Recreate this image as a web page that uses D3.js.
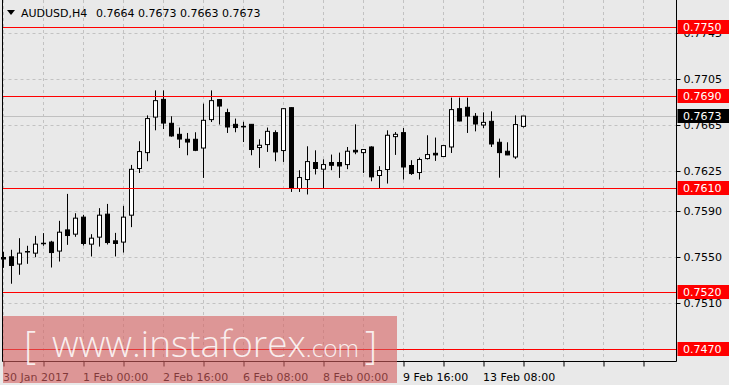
<!DOCTYPE html>
<html><head><meta charset="utf-8">
<script src="https://cdn.jsdelivr.net/npm/d3@7"></script>
<style>
body{margin:0;background:#e9e9e9;}
svg{display:block;}
</style>
</head><body>
<svg id="chart" width="729" height="385"></svg>
<script>
// ---- data ----
const symbol = "AUDUSD,H4";
const headerValues = ["0.7664", "0.7673", "0.7663", "0.7673"];
const opens  = [0.75500,0.75506,0.75443,0.75548,0.75538,0.75620,0.75634,0.75556,0.75740,0.75703,
                0.75851,0.75616,0.75677,0.75877,0.75645,0.75634,0.75868,0.76274,0.76412,0.76721,
                0.76875,0.76667,0.76571,0.76528,0.76528,0.76452,0.76699,0.76873,0.76760,0.76658,
                0.76640,0.76658,0.76456,0.76482,0.76586,0.76430,0.76803,0.76100,0.76178,0.76326,
                0.76268,0.76326,0.76326,0.76308,0.76432,0.76412,0.76461,0.76213,0.76265,0.76551,
                0.76586,0.76300,0.76239,0.76360,0.76406,0.76378,0.76461,0.76794,0.76806,0.76728,
                0.76652,0.76684,0.76502,0.76424,0.76374,0.76640];
const highs  = [0.75550,0.75567,0.75668,0.75602,0.75688,0.75712,0.75645,0.75819,0.76053,0.75885,
                0.75871,0.75703,0.75929,0.75966,0.75714,0.75949,0.76305,0.76511,0.76736,0.76953,
                0.76953,0.76728,0.76630,0.76583,0.76589,0.76838,0.76953,0.76876,0.76794,0.76708,
                0.76680,0.76660,0.76528,0.76630,0.76606,0.76800,0.76805,0.76259,0.76467,0.76432,
                0.76354,0.76395,0.76412,0.76461,0.76658,0.76442,0.76467,0.76294,0.76606,0.76591,
                0.76626,0.76346,0.76369,0.76563,0.76543,0.76476,0.76890,0.76890,0.76890,0.76756,
                0.76762,0.76771,0.76534,0.76502,0.76736,0.76730];
const lows   = [0.75410,0.75272,0.75350,0.75445,0.75503,0.75602,0.75413,0.75465,0.75610,0.75680,
                0.75604,0.75509,0.75595,0.75613,0.75509,0.75543,0.75764,0.76235,0.76337,0.76606,
                0.76617,0.76550,0.76452,0.76389,0.76425,0.76192,0.76678,0.76656,0.76583,0.76589,
                0.76504,0.76389,0.76279,0.76418,0.76337,0.76331,0.76070,0.76070,0.76048,0.76222,
                0.76100,0.76259,0.76192,0.76268,0.76398,0.76235,0.76163,0.76100,0.76143,0.76392,
                0.76178,0.76218,0.76178,0.76352,0.76340,0.76376,0.76409,0.76684,0.76583,0.76597,
                0.76625,0.76461,0.76194,0.76390,0.76357,0.76630];
const closes = [0.75487,0.75431,0.75538,0.75552,0.75616,0.75624,0.75543,0.75720,0.75691,0.75842,
                0.75622,0.75668,0.75868,0.75630,0.75622,0.75851,0.76267,0.76421,0.76708,0.76864,
                0.76669,0.76557,0.76530,0.76504,0.76432,0.76693,0.76864,0.76817,0.76635,0.76630,
                0.76636,0.76439,0.76476,0.76597,0.76418,0.76794,0.76100,0.76195,0.76334,0.76274,
                0.76308,0.76302,0.76296,0.76424,0.76418,0.76439,0.76201,0.76256,0.76563,0.76571,
                0.76287,0.76230,0.76352,0.76395,0.76392,0.76473,0.76786,0.76687,0.76730,0.76661,
                0.76675,0.76487,0.76412,0.76392,0.76656,0.76730];
const levelLines = [0.7750, 0.7690, 0.7610, 0.7520, 0.7470];
const priceTicks = [0.7745, 0.7705, 0.7665, 0.7625, 0.7590, 0.7550, 0.7510];
const timeTickIdx = [0,5,10,15,20,25,30,35,40,45,50,55,60,65,70,75,80];
const timeLabelIdx = [0, 10, 20, 30, 40, 50, 60];
const timeLabels = ["30 Jan 2017", "1 Feb 00:00", "2 Feb 16:00", "6 Feb 08:00", "8 Feb 00:00", "9 Feb 16:00", "13 Feb 08:00"];
const lastPrice = 0.7673;
const watermarkMain = "www.instaforex";
const watermarkSuffix = ".com";

// ---- layout ----
const L = 2.5, R = 676.5, B = 361.5;
const FONT = "'DejaVu Sans', Verdana, sans-serif";
const svg = d3.select("#chart");
svg.append("rect").attr("width",729).attr("height",385).attr("fill","#e9e9e9");

const x = d3.scaleLinear().domain([0, 84]).range([3.5, 675.5]);
const y = d3.scaleLinear().domain([0.7470, 0.7750]).range([349.5, 27.5]);
const crisp = v => Math.floor(y(v)) + 0.5;

const candles = opens.map((o,i)=>({i, o, h:highs[i], l:lows[i], c:closes[i]}));

// grid
const grid = svg.append("g").attr("stroke","#c2c2c2").attr("stroke-dasharray","3,3").attr("stroke-width",1);
grid.append("g").selectAll("line").data(timeTickIdx).join("line")
  .attr("x1",d=>x(d)).attr("x2",d=>x(d)).attr("y1",0).attr("y2",B);
grid.append("g").selectAll("line").data(priceTicks).join("line")
  .attr("x1",L).attr("x2",R).attr("y1",crisp).attr("y2",crisp);

// current price line
svg.append("line").attr("x1",L).attr("x2",R)
  .attr("y1",crisp(lastPrice)).attr("y2",crisp(lastPrice))
  .attr("stroke","#c0c0c0").attr("stroke-width",1);

// candles
const cg = svg.append("g");
cg.append("g").selectAll("line").data(candles).join("line")
  .attr("x1",d=>x(d.i)).attr("x2",d=>x(d.i))
  .attr("y1",d=>y(d.h)).attr("y2",d=>y(d.l))
  .attr("stroke","#000").attr("stroke-width",1);
cg.append("g").selectAll("rect").data(candles).join("rect")
  .attr("x",d=>x(d.i)-2).attr("width",4)
  .attr("y",d=>Math.min(y(d.o),y(d.c)))
  .attr("height",d=>Math.max(0.5,Math.abs(y(d.o)-y(d.c))))
  .attr("fill",d=>d.c>=d.o?"#ffffff":"#000000")
  .attr("stroke","#000").attr("stroke-width",1);

// red levels (on top)
svg.append("g").selectAll("line").data(levelLines).join("line")
  .attr("x1",L).attr("x2",R)
  .attr("y1",crisp).attr("y2",crisp)
  .style("stroke","#ff0000").style("stroke-width","1px");

// frame
svg.append("path").attr("d",`M${L},-1V${B}H${R}V-1`).attr("fill","none").attr("stroke","#000").attr("stroke-width",1);

// right axis
const yAxis = d3.axisRight(y).tickValues(priceTicks).tickSize(4).tickFormat(d3.format(".4f"));
const ya = svg.append("g").attr("transform",`translate(${R},0)`).call(yAxis);
ya.select(".domain").remove();
ya.selectAll(".tick").attr("transform",d=>`translate(0,${crisp(d)})`);
ya.selectAll(".tick line").attr("stroke","#000");
ya.selectAll(".tick text").attr("x",7).attr("dy","0.35em").attr("fill","#000")
  .style("font-family",FONT).style("font-size","11px");

// level labels
const lbl = svg.append("g");
const lv = lbl.selectAll("g").data(levelLines).join("g")
  .attr("transform",d=>`translate(0,${crisp(d)})`);
lv.append("rect").attr("x",677.5).attr("y",-7.5).attr("width",52).attr("height",14).attr("fill","#ff0000");
lv.append("text").attr("x",683).attr("dy","0.36em").attr("fill","#fff")
  .style("font-family",FONT).style("font-size","11px").text(d=>d3.format(".4f")(d));
const cp = lbl.append("g").attr("transform",`translate(0,${crisp(lastPrice)})`);
cp.append("rect").attr("x",677.5).attr("y",-7.5).attr("width",52).attr("height",14).attr("fill","#000");
cp.append("text").attr("x",683).attr("dy","0.36em").attr("fill","#fff")
  .style("font-family",FONT).style("font-size","11px").text(d3.format(".4f")(lastPrice));

// bottom axis
const xAxis = d3.axisBottom(x).tickValues(timeTickIdx).tickSize(5)
  .tickFormat(d=>{const k=timeLabelIdx.indexOf(d); return k>=0?timeLabels[k]:"";});
const xa = svg.append("g").attr("transform",`translate(0,${B})`).call(xAxis);
xa.select(".domain").remove();
xa.selectAll(".tick line").attr("stroke","#000");
xa.selectAll(".tick text").attr("text-anchor","start").attr("x",-1).attr("y",19).attr("dy",0)
  .attr("fill","#000").style("font-family",FONT).style("font-size","11px");

// header
svg.append("path").attr("d","M7,10H15L11,15Z").attr("fill","#000");
svg.append("text").attr("x",21).attr("y",16.5).style("font-family",FONT).style("font-size","11px")
  .attr("fill","#000").text(symbol);
svg.append("text").attr("x",96).attr("y",16.5).style("font-family",FONT).style("font-size","11px")
  .attr("fill","#000").text(headerValues.join(" "));

// watermark
const wm = svg.append("g");
wm.append("rect").attr("x",3).attr("y",316).attr("width",394).attr("height",67)
  .attr("fill","rgba(214,95,95,0.6)");
const wt = wm.append("text").attr("y",357).attr("fill","#ffffff").attr("fill-opacity",0.85)
  .style("font-family","'Open Sans', sans-serif").style("font-weight",300);
wt.append("tspan").attr("x",24).attr("dy",2).style("font-size","38px").text("[");
const tMain = wt.append("tspan").attr("x",52).attr("dy",-2).style("font-size","35px").text(watermarkMain);
const tSuf = wt.append("tspan").style("font-size","24px").text(watermarkSuffix);
wt.append("tspan").attr("x",365).attr("dy",2).style("font-size","38px").text("]");
const fit = (sel, base, target) => {
  const w = sel.node().getComputedTextLength();
  if (w > 0) sel.style("font-size", (base*target/w).toFixed(2)+"px");
};
fit(tMain, 35, 254);
fit(tSuf, 24, 53);
</script>
</body></html>
